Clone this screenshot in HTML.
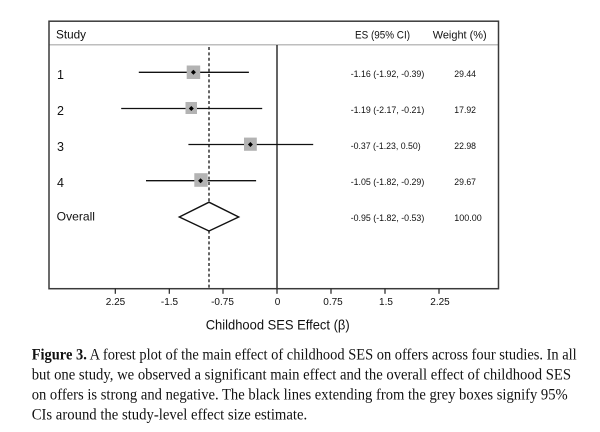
<!DOCTYPE html>
<html>
<head>
<meta charset="utf-8">
<style>
  html, body { margin:0; padding:0; background:#fff; }
  svg { display:block; }
</style>
</head>
<body>
<svg width="600" height="432" viewBox="0 0 600 432" xmlns="http://www.w3.org/2000/svg">
  <rect x="0" y="0" width="600" height="432" fill="#fff"/>

  <!-- header separator -->
  <line x1="49" y1="44.8" x2="498.5" y2="44.8" stroke="#a8a8a8" stroke-width="1.2"/>

  <!-- zero line -->
  <line x1="277" y1="45" x2="277" y2="288.7" stroke="#111" stroke-width="1.3"/>
  <!-- dashed overall line -->
  <line x1="209" y1="47" x2="209" y2="288" stroke="#555" stroke-width="1.8" stroke-dasharray="3,2.4"/>

  <!-- outer frame -->
  <rect x="49" y="21.2" width="449.5" height="267.5" fill="none" stroke="#3a3a3a" stroke-width="1.5"/>

  <!-- ticks -->
  <g stroke="#222" stroke-width="1.2">
    <line x1="115.3" y1="288.7" x2="115.3" y2="293.8"/>
    <line x1="169.3" y1="288.7" x2="169.3" y2="293.8"/>
    <line x1="223" y1="288.7" x2="223" y2="293.8"/>
    <line x1="277" y1="288.7" x2="277" y2="293.8"/>
    <line x1="331" y1="288.7" x2="331" y2="293.8"/>
    <line x1="385" y1="288.7" x2="385" y2="293.8"/>
    <line x1="439" y1="288.7" x2="439" y2="293.8"/>
  </g>
  <g font-family="Liberation Sans, sans-serif" font-size="10" fill="#111" text-anchor="middle">
    <text x="115.5" y="305.2">2.25</text>
    <text x="169.5" y="305.2">-1.5</text>
    <text x="222.5" y="305.2">-0.75</text>
    <text x="277.5" y="305.2">0</text>
    <text x="333" y="305.2">0.75</text>
    <text x="386" y="305.2">1.5</text>
    <text x="440" y="305.2">2.25</text>
  </g>
  <text x="205.7" y="329.3" font-family="Liberation Sans, sans-serif" font-size="13.8" fill="#111" textLength="144" lengthAdjust="spacingAndGlyphs">Childhood SES Effect (β)</text>

  <!-- header text -->
  <g font-family="Liberation Sans, sans-serif" fill="#111">
    <text x="56" y="38.5" font-size="12" textLength="30" lengthAdjust="spacingAndGlyphs">Study</text>
    <text x="355" y="38.5" font-size="11" textLength="55" lengthAdjust="spacingAndGlyphs">ES (95% CI)</text>
    <text x="432.7" y="38.5" font-size="11" textLength="54" lengthAdjust="spacingAndGlyphs">Weight (%)</text>
  </g>

  <!-- row labels -->
  <g font-family="Liberation Sans, sans-serif" font-size="12.5" fill="#111">
    <text x="57" y="78.8">1</text>
    <text x="57" y="114.8">2</text>
    <text x="57" y="150.8">3</text>
    <text x="57" y="186.8">4</text>
    <text x="56.7" y="220.5" font-size="12" textLength="38.3" lengthAdjust="spacingAndGlyphs">Overall</text>
  </g>

  <!-- CI lines -->
  <g stroke="#111" stroke-width="1.3">
    <line x1="138.8" y1="72.3" x2="248.9" y2="72.3"/>
    <line x1="121.2" y1="108.5" x2="262.2" y2="108.5"/>
    <line x1="188.4" y1="144.5" x2="313.2" y2="144.5"/>
    <line x1="146" y1="180.7" x2="256.1" y2="180.7"/>
  </g>

  <!-- weight boxes -->
  <g fill="#b3b3b3">
    <rect x="186.7" y="65.5" width="13.5" height="13.5"/>
    <rect x="185.5" y="102" width="11.5" height="12"/>
    <rect x="244" y="137.6" width="12.8" height="13.2"/>
    <rect x="194.3" y="173.2" width="13.4" height="13.6"/>
  </g>
  <!-- point markers -->
  <g fill="#000">
    <polygon points="193.4,69.8 195.9,72.3 193.4,74.8 190.9,72.3"/>
    <polygon points="191.3,106 193.8,108.5 191.3,111 188.8,108.5"/>
    <polygon points="250.4,142 252.9,144.5 250.4,147 247.9,144.5"/>
    <polygon points="200.6,178.2 203.1,180.7 200.6,183.2 198.1,180.7"/>
  </g>

  <!-- overall diamond -->
  <polygon points="179.3,217 209,202.2 238.7,217 209,231" fill="#fff" stroke="#111" stroke-width="1.4"/>

  <!-- ES values -->
  <g font-family="Liberation Sans, sans-serif" font-size="9" fill="#111">
    <text x="350.7" y="76.8" textLength="73.6" lengthAdjust="spacingAndGlyphs">-1.16 (-1.92, -0.39)</text>
    <text x="350.7" y="113" textLength="73.6" lengthAdjust="spacingAndGlyphs">-1.19 (-2.17, -0.21)</text>
    <text x="350.7" y="149" textLength="70" lengthAdjust="spacingAndGlyphs">-0.37 (-1.23, 0.50)</text>
    <text x="350.7" y="185.2" textLength="73.6" lengthAdjust="spacingAndGlyphs">-1.05 (-1.82, -0.29)</text>
    <text x="350.7" y="220.8" textLength="73.6" lengthAdjust="spacingAndGlyphs">-0.95 (-1.82, -0.53)</text>

    <text x="454.3" y="76.8" textLength="21.7" lengthAdjust="spacingAndGlyphs">29.44</text>
    <text x="454.3" y="113" textLength="21.7" lengthAdjust="spacingAndGlyphs">17.92</text>
    <text x="454.3" y="149" textLength="21.7" lengthAdjust="spacingAndGlyphs">22.98</text>
    <text x="454.3" y="185.2" textLength="21.7" lengthAdjust="spacingAndGlyphs">29.67</text>
    <text x="454.3" y="220.8" textLength="27.4" lengthAdjust="spacingAndGlyphs">100.00</text>
  </g>

  <!-- caption -->
  <g font-family="Liberation Serif, serif" font-size="15.3" fill="#111">
    <text x="31.7" y="359.3" textLength="545" lengthAdjust="spacingAndGlyphs"><tspan font-weight="bold">Figure 3.</tspan> A forest plot of the main effect of childhood SES on offers across four studies. In all</text>
    <text x="31.7" y="379.5" textLength="539.3" lengthAdjust="spacingAndGlyphs">but one study, we observed a significant main effect and the overall effect of childhood SES</text>
    <text x="31.7" y="399.6" textLength="536" lengthAdjust="spacingAndGlyphs">on offers is strong and negative. The black lines extending from the grey boxes signify 95%</text>
    <text x="31.7" y="419.5" textLength="275.5" lengthAdjust="spacingAndGlyphs">CIs around the study-level effect size estimate.</text>
  </g>
</svg>
</body>
</html>
